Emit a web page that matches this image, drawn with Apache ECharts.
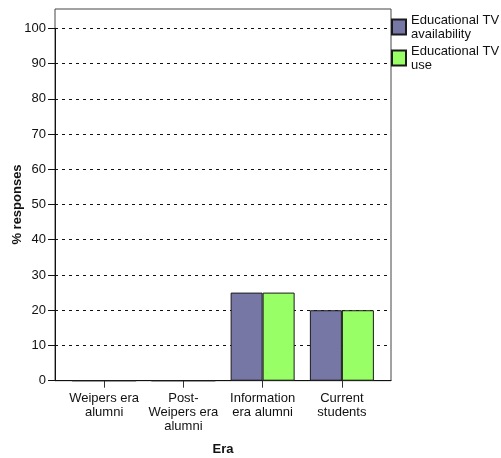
<!DOCTYPE html>
<html>
<head>
<meta charset="utf-8">
<script src="https://cdn.jsdelivr.net/npm/echarts@6/dist/echarts.min.js"></script>
<style>html,body{margin:0;padding:0;background:#fff}#c{width:501px;height:458px}</style>
</head>
<body>
<div id="c"></div>
<script>
var categories = ['Weipers era\nalumni', 'Post-\nWeipers era\nalumni', 'Information\nera alumni', 'Current\nstudents'];
var availability = [0, 0, 25, 20];
var use = [0, 0, 25, 20];
var seriesNames = ['Educational TV\navailability', 'Educational TV\nuse'];
var yTicks = [0, 10, 20, 30, 40, 50, 60, 70, 80, 90, 100];

var FONT = '"Liberation Sans", Arial, Helvetica, sans-serif';
var TXT = '#111';
var chart = echarts.init(document.getElementById('c'), null, {renderer: 'canvas'});
var option = {
  animation: false,
  backgroundColor: '#fff',
  textStyle: {fontFamily: FONT},
  grid: [
    {left: 55, top: 28.3, width: 336, height: 352.4, outerBoundsMode: 'none', containLabel: false},
    {left: 55, top: 9, width: 336, height: 371.7, show: true, borderColor: '#444', borderWidth: 1, backgroundColor: 'transparent', outerBoundsMode: 'none', containLabel: false},
    {left: 64.5, top: 28.3, width: 317, height: 352.4, outerBoundsMode: 'none', containLabel: false}
  ],
  legend: {
    left: 391, top: 13, padding: 0, orient: 'vertical', itemWidth: 14, itemHeight: 15, itemGap: 3,
    icon: 'rect',
    textStyle: {fontSize: 13, color: TXT, fontFamily: FONT, lineHeight: 14},
    data: seriesNames
  },
  xAxis: [
    {gridIndex: 0, type: 'value', min: 0, max: 1, axisLine: {show: true, onZero: false, lineStyle: {color: '#111', width: 1}}, axisTick: {show: false}, axisLabel: {show: false}, splitLine: {show: false}},
    {gridIndex: 1, type: 'value', min: 0, max: 1, show: false},
    {gridIndex: 2, type: 'category', data: categories,
      axisLine: {show: false},
      axisTick: {show: true, alignWithLabel: true, length: 7, lineStyle: {color: '#333'}},
      axisLabel: {fontSize: 13, color: TXT, fontFamily: FONT, lineHeight: 14, margin: 11, interval: 0},
      name: 'Era', nameLocation: 'middle', nameGap: 62, nameMoveOverlap: false,
      nameTextStyle: {fontWeight: 'bold', fontSize: 13, color: TXT, fontFamily: FONT}
    }
  ],
  yAxis: [
    {gridIndex: 0, type: 'value', min: 0, max: 100, interval: 10,
      axisLine: {show: true, onZero: false, lineStyle: {color: '#111', width: 1}},
      axisTick: {show: true, length: 7, lineStyle: {color: '#111'}},
      axisLabel: {fontSize: 13, color: TXT, fontFamily: FONT, margin: 9,
        formatter: function (v) { return yTicks.indexOf(v) >= 0 ? String(v) : ''; }},
      splitLine: {show: true, lineStyle: {color: '#111', type: [3, 4], width: 1}},
      name: '% responses', nameLocation: 'middle', nameGap: 31, nameMoveOverlap: false,
      nameTextStyle: {fontWeight: 'bold', fontSize: 13, color: TXT, fontFamily: FONT}
    },
    {gridIndex: 1, type: 'value', min: 0, max: 1, show: false},
    {gridIndex: 2, type: 'value', min: 0, max: 100, show: false}
  ],
  series: [
    {name: seriesNames[0], type: 'bar', xAxisIndex: 2, yAxisIndex: 2, data: availability,
      barWidth: 32, barGap: '0%',
      itemStyle: {color: '#7777A6', borderColor: '#1a1a1a', borderWidth: 1}},
    {name: seriesNames[1], type: 'bar', xAxisIndex: 2, yAxisIndex: 2, data: use,
      barWidth: 32, barGap: '0%',
      itemStyle: {color: '#99FF66', borderColor: '#1a1a1a', borderWidth: 1}}
  ]
};
chart.setOption(option);
</script>
</body>
</html>
